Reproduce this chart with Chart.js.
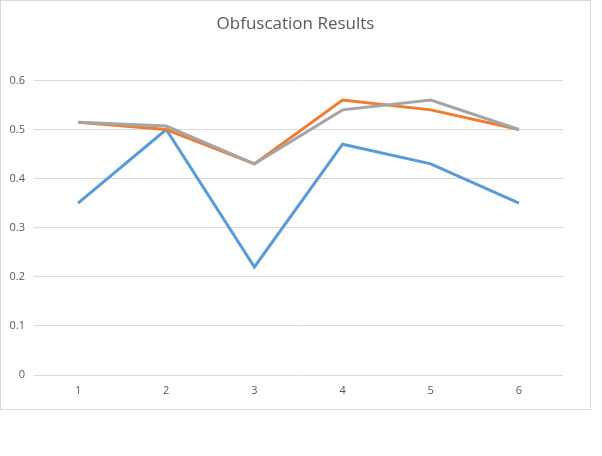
<!DOCTYPE html>
<html>
<head>
<meta charset="utf-8">
<script src="https://cdn.jsdelivr.net/npm/chart.js@4"></script>
<style>
  html, body { margin: 0; padding: 0; background: #ffffff; }
  #box { position: absolute; left: 0; top: 0; width: 589px; height: 408px; border: 1px solid #d9d9d9; }
  #c { display: block; }
</style>
</head>
<body>
<div id="box"><canvas id="c" width="589" height="408"></canvas></div>
<script>
const categories = ['1', '2', '3', '4', '5', '6'];
const series1 = [0.35, 0.50, 0.22, 0.47, 0.43, 0.35];
const series2 = [0.515, 0.50, 0.43, 0.56, 0.54, 0.50];
const series3 = [0.515, 0.507, 0.43, 0.54, 0.56, 0.50];
const titleText = 'Obfuscation Results';

const ctx = document.getElementById('c').getContext('2d');
new Chart(ctx, {
  type: 'line',
  data: {
    labels: categories,
    datasets: [
      { label: 'Series1', data: series1, borderColor: '#5B9BD5', backgroundColor: '#5B9BD5', borderWidth: 3, pointRadius: 0, tension: 0, order: 3 },
      { label: 'Series2', data: series2, borderColor: '#ED7D31', backgroundColor: '#ED7D31', borderWidth: 3, pointRadius: 0, tension: 0, order: 2 },
      { label: 'Series3', data: series3, borderColor: '#A5A5A5', backgroundColor: '#A5A5A5', borderWidth: 3, pointRadius: 0, tension: 0, order: 1 }
    ]
  },
  options: {
    responsive: false,
    animation: false,
    devicePixelRatio: 1,
    layout: { padding: { left: 0, right: 0, top: 0, bottom: 0 } },
    plugins: {
      legend: { display: false },
      tooltip: { enabled: false },
      title: {
        display: true,
        text: titleText,
        color: '#595959',
        font: { family: "'Open Sans', 'Noto Sans', sans-serif", size: 17, weight: 'normal' },
        padding: { top: 13, bottom: 46 }
      }
    },
    scales: {
      x: {
        offset: true,
        grid: { display: false, drawTicks: false },
        border: { display: false },
        ticks: { color: '#595959', font: { family: "'Open Sans', 'Noto Sans', sans-serif", size: 11 }, padding: 9 },
        afterFit: (s) => { s.height = 34; }
      },
      y: {
        min: 0,
        max: 0.6,
        grid: { color: '#d9d9d9', lineWidth: 1, drawTicks: false },
        border: { display: false },
        ticks: { stepSize: 0.1, color: '#595959', font: { family: "'Open Sans', 'Noto Sans', sans-serif", size: 11 }, padding: 9,
          callback: (v) => Math.round(v * 10) / 10 },
        afterFit: (s) => { s.width = 33; }
      },
      yRightSpace: {
        position: 'right',
        display: true,
        grid: { display: false, drawTicks: false },
        border: { display: false },
        ticks: { display: false },
        afterFit: (s) => { s.width = 27; }
      }
    }
  }
});
</script>
</body>
</html>
